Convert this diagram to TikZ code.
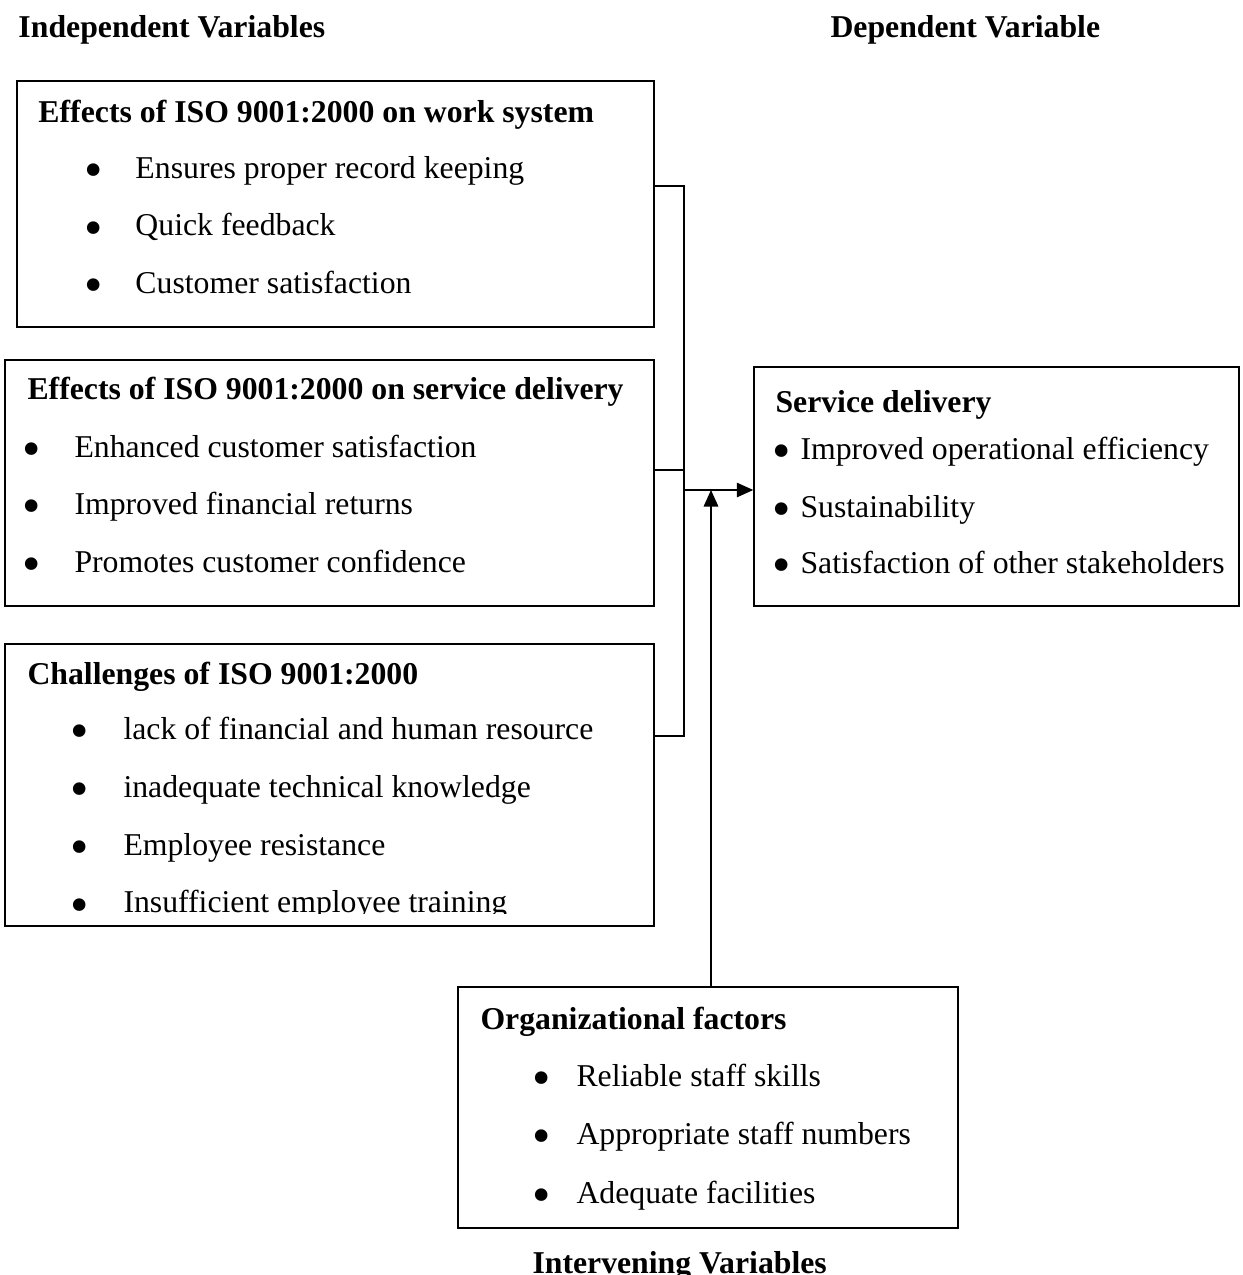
\documentclass[tikz,border=0pt]{standalone}
\usepackage{fontspec}
\setmainfont{Liberation Serif}
\usetikzlibrary{arrows.meta}

\begin{document}
\begin{tikzpicture}[
  x=0.4pt, y=-0.4pt,
  font=\fontsize{12.7}{15}\selectfont,
  >={Triangle[length=6.6pt,width=5.8pt]},
  box/.style={draw, line width=0.6pt, inner sep=0pt},
  hd/.style={anchor=base west, inner sep=0pt, font=\fontsize{12.7}{15}\selectfont\bfseries},
  itm/.style={anchor=base west, inner sep=0pt},
  bl/.style={anchor=center, inner sep=0pt, yshift=0.9pt, font=\fontsize{21}{21}\selectfont},
  ln/.style={line width=0.6pt}]
\useasboundingbox (0,0) rectangle (1242,1275);

% ===== column headings =====
\node[hd] (indep) at (18,37) {Independent Variables};
\node[hd] (dep) at (830,37) {Dependent Variable};
\node[hd] (interv) at (532,1273) {Intervening Variables};

% ===== work system (top left) =====
\node[box, minimum width=254.8pt, minimum height=98.4pt] (work) at (335.5,204) {};
\node[hd] (workt) at (38,122) {Effects of ISO 9001:2000 on work system};
\node[bl] (wb1) at (94,178) {\textbullet};
\node[itm] (wi1) at (135,178) {Ensures proper record keeping};
\node[bl] (wb2) at (94,235.5) {\textbullet};
\node[itm] (wi2) at (135,235.5) {Quick feedback};
\node[bl] (wb3) at (94,293) {\textbullet};
\node[itm] (wi3) at (135,293) {Customer satisfaction};

% ===== service delivery effects (middle left) =====
\node[box, minimum width=259.6pt, minimum height=98.4pt] (serv) at (329.5,483) {};
\node[hd] (servt) at (27,399) {Effects of ISO 9001:2000 on service delivery};
\node[bl] (sb1) at (32,457) {\textbullet};
\node[itm] (si1) at (74,457) {Enhanced customer satisfaction};
\node[bl] (sb2) at (32,514) {\textbullet};
\node[itm] (si2) at (74,514) {Improved financial returns};
\node[bl] (sb3) at (32,572) {\textbullet};
\node[itm] (si3) at (74,572) {Promotes customer confidence};

% ===== challenges (bottom left) =====
\node[box, minimum width=259.6pt, minimum height=112.8pt] (chal) at (329.5,785) {};
\node[hd] (chalt) at (27,684) {Challenges of ISO 9001:2000};
\node[bl] (cb1) at (80,739) {\textbullet};
\node[itm] (ci1) at (123,739) {lack of financial and human resource};
\node[bl] (cb2) at (80,797) {\textbullet};
\node[itm] (ci2) at (123,797) {inadequate technical knowledge};
\node[bl] (cb3) at (80,855) {\textbullet};
\node[itm] (ci3) at (123,855) {Employee resistance};
\begin{scope}
  \clip (0,0) rectangle (1242,913.5);
  \node[bl] (cb4) at (80,912.5) {\textbullet};
  \node[itm] (ci4) at (123,912.5) {Insufficient employee training};
\end{scope}

% ===== dependent variable (right) =====
\node[box, minimum width=194pt, minimum height=95.6pt] (sd) at (996.5,486.5) {};
\node[hd] (sdt) at (775,412) {Service delivery};
\node[bl] (db1) at (782,459) {\textbullet};
\node[itm] (di1) at (800,459) {Improved operational efficiency};
\node[bl] (db2) at (782,517) {\textbullet};
\node[itm] (di2) at (800,517) {Sustainability};
\node[bl] (db3) at (782,573) {\textbullet};
\node[itm] (di3) at (800,573) {Satisfaction of other stakeholders};

% ===== intervening variable (bottom) =====
\node[box, minimum width=200pt, minimum height=96.4pt] (org) at (708,1107.5) {};
\node[hd] (orgt) at (480,1029) {Organizational factors};
\node[bl] (ob1) at (542,1086) {\textbullet};
\node[itm] (oi1) at (576,1086) {Reliable staff skills};
\node[bl] (ob2) at (542,1144) {\textbullet};
\node[itm] (oi2) at (576,1144) {Appropriate staff numbers};
\node[bl] (ob3) at (542,1203) {\textbullet};
\node[itm] (oi3) at (576,1203) {Adequate facilities};

% ===== connectors =====
\coordinate (j1) at (684,186);
\coordinate (j2) at (684,470);
\coordinate (j3) at (684,736);
\coordinate (jm) at (684,490);
\coordinate (up) at (711,490);
\draw[ln] (work.east |- j1) -- (j1) |- (chal.east |- j3);
\draw[ln] (serv.east |- j2) -- (j2);
\draw[ln, ->] (jm) -- (sd.west |- jm);
\draw[ln, ->] (org.north -| up) -- (up);

\end{tikzpicture}
\end{document}
